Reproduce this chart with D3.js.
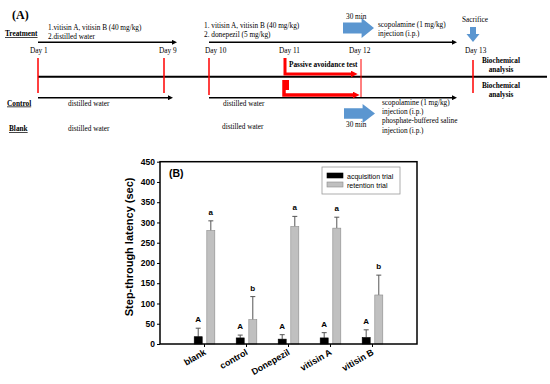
<!DOCTYPE html>
<html>
<head>
<meta charset="utf-8">
<script src="https://cdn.jsdelivr.net/npm/d3@7"></script>
<style>
  body { margin: 0; background: #fff; }
  svg { display: block; }
</style>
</head>
<body>
<div id="chart"></div>
<script>
// ---- panel B data ----
const groups = ["blank", "control", "Donepezil", "vitisin A", "vitisin B"];
const acquisition = [18, 15, 12, 15, 16];
const acquisitionErr = [21, 7, 11, 13, 19];
const retention = [280, 60, 290, 286, 121];
const retentionErr = [24, 57, 25, 27, 49];
const acqLetters = ["A", "A", "A", "A", "A"];
const retLetters = ["a", "b", "a", "a", "b"];
const seriesNames = ["acquisition trial", "retention trial"];
const yTicks = [0, 50, 100, 150, 200, 250, 300, 350, 400, 450];

// ---- panel A labels ----
const days = ["Day 1", "Day 9", "Day 10", "Day 11", "Day 12", "Day 13"];

const width = 550, height = 384;
const svg = d3.select("#chart").append("svg")
    .attr("width", width)
    .attr("height", height);

svg.append("rect").attr("width", width).attr("height", height).attr("fill", "#fff");

const serif = "'Liberation Serif', 'Times New Roman', serif";
const sans = "'Liberation Sans', Arial, sans-serif";
const blue = "#5b96d0";
const red = "#ff0000";

const defs = svg.append("defs");
function marker(id, color, w, h) {
    defs.append("marker")
        .attr("id", id)
        .attr("viewBox", "0 0 10 10")
        .attr("refX", 2).attr("refY", 5)
        .attr("markerUnits", "userSpaceOnUse")
        .attr("markerWidth", w).attr("markerHeight", h)
        .attr("orient", "auto")
        .append("path").attr("d", "M0,0 L10,5 L0,10 Z").attr("fill", color);
}
marker("blackHead", "#000", 6, 5);
marker("redHead", red, 7, 7);

// ================= panel A: timeline =================
const A = svg.append("g");
// day positions on the schematic
const dayX = d3.scaleOrdinal().domain(days).range([38, 164, 209, 284, 361, 473]);

function txt(g, x, y, s, opts = {}) {
    return g.append("text")
        .attr("x", x).attr("y", y)
        .attr("font-family", serif)
        .attr("font-size", opts.size || 7.3)
        .attr("font-weight", opts.bold ? "bold" : "normal")
        .attr("text-decoration", opts.underline ? "underline" : null)
        .attr("text-anchor", opts.anchor || "start")
        .attr("fill", "#000")
        .text(s);
}

txt(A, 12, 19, "(A)", {size: 12, bold: true});

// row labels
txt(A, 5, 36, "Treatment", {bold: true, underline: true});
txt(A, 7, 105.5, "Control", {bold: true, underline: true});
txt(A, 9, 131, "Blank", {bold: true, underline: true});

// treatment text
txt(A, 48, 29.5, "1.vitisin A, vitisin B (40 mg/kg)");
txt(A, 48, 38.5, "2.distilled water");
txt(A, 204, 27.5, "1. vitisin A, vitisin B (40 mg/kg)");
txt(A, 204, 36.5, "2. donepezil  (5 mg/kg)");

// black arrows
function arrow(x1, x2, y, head = true) {
    A.append("line")
        .attr("x1", x1).attr("x2", head ? x2 - 5 : x2)
        .attr("y1", y).attr("y2", y)
        .attr("stroke", "#000").attr("stroke-width", 1.5)
        .attr("marker-end", head ? "url(#blackHead)" : null);
}
arrow(dayX("Day 1"), 178, 42.3);
arrow(dayX("Day 10"), 458, 42.3);
arrow(dayX("Day 1"), 174, 97.7);
arrow(dayX("Day 10"), 458, 97.7);

// day labels
[["Day 1", 30], ["Day 9", 159], ["Day 10", 205], ["Day 11", 279], ["Day 12", 349], ["Day 13", 465]]
    .forEach(([d, x]) => txt(A, x, 53, d));

// middle line
A.append("line").attr("x1", dayX("Day 1")).attr("x2", 547)
    .attr("y1", 76.7).attr("y2", 76.7)
    .attr("stroke", "#000").attr("stroke-width", 2);

// red day marks
[["Day 1", 58, 93], ["Day 9", 58, 93], ["Day 10", 58, 95], ["Day 12", 59, 97], ["Day 13", 60, 93]]
    .forEach(([d, y1, y2]) => {
        A.append("line")
            .attr("x1", dayX(d)).attr("x2", dayX(d))
            .attr("y1", y1).attr("y2", y2)
            .attr("stroke", red).attr("stroke-width", d === "Day 12" ? 1 : 1.5);
    });

// passive avoidance red L arrows
A.append("path")
    .attr("d", `M${dayX("Day 11") + 1},58 V74 H352`)
    .attr("fill", "none").attr("stroke", red).attr("stroke-width", 3)
    .attr("marker-end", "url(#redHead)");
A.append("rect").attr("x", dayX("Day 11") - 1).attr("y", 80)
    .attr("width", 6).attr("height", 10).attr("fill", red);
A.append("path")
    .attr("d", `M${dayX("Day 11")},80 V95 H354`)
    .attr("fill", "none").attr("stroke", red).attr("stroke-width", 3.5)
    .attr("marker-end", "url(#redHead)");
txt(A, 289, 67, "Passive avoidance test", {bold: true});

// biochemical analysis
txt(A, 501, 63, "Biochemical", {bold: true, anchor: "middle"});
txt(A, 501, 72, "analysis", {bold: true, anchor: "middle"});
txt(A, 501, 88, "Biochemical", {bold: true, anchor: "middle"});
txt(A, 501, 97, "analysis", {bold: true, anchor: "middle"});

// blue block arrows
function blockArrow(x, y, w, h) {
    const body = h * 0.28, hx = x + w * 0.6;
    const cy = y + h / 2;
    A.append("path")
        .attr("d", `M${x},${cy - body} H${hx} V${y} L${x + w},${cy} L${hx},${y + h} V${cy + body} H${x} Z`)
        .attr("fill", blue);
}
blockArrow(343, 18, 31, 20);
txt(A, 346, 18.5, "30 min");
txt(A, 378, 27, "scopolamine (1 mg/kg)");
txt(A, 378, 35.5, "injection (i.p.)");

blockArrow(344, 104, 31, 19);
txt(A, 346, 127, "30 min");
txt(A, 382, 104.5, "scopolamine (1 mg/kg)");
txt(A, 382, 113.5, "injection (i.p.)");
txt(A, 382, 123, "phosphate-buffered saline");
txt(A, 382, 132.5, "injection (i.p.)");

// sacrifice
txt(A, 462, 22, "Sacrifice");
A.append("path")
    .attr("d", "M470,27 H476 V34 H479.5 L473,42 L466.5,34 H470 Z")
    .attr("fill", blue);

// control / blank text
txt(A, 68, 105.5, "distilled water");
txt(A, 223, 105.5, "distilled water");
txt(A, 68, 131, "distilled water");
txt(A, 222, 129, "distilled water");

// ================= panel B: bar chart =================
const plot = {left: 160, right: 417, top: 161.7, bottom: 344};

const x = d3.scaleBand()
    .domain(groups)
    .range([plot.left, plot.right])
    .paddingInner(0)
    .paddingOuter(0.56);

const y = d3.scaleLinear()
    .domain([0, 450])
    .range([plot.bottom, plot.top]);

const B = svg.append("g");
const barW = 8, off = 6.3;

const rows = groups.map((g, i) => ({
    g,
    acq: acquisition[i], acqE: acquisitionErr[i], acqL: acqLetters[i],
    ret: retention[i], retE: retentionErr[i], retL: retLetters[i]
}));

function drawSeries(key, errKey, letterKey, dx, fill, stroke) {
    const cx = d => x(d.g) + x.bandwidth() / 2 + dx;
    B.selectAll(null).data(rows).enter().append("line")
        .attr("x1", cx).attr("x2", cx)
        .attr("y1", d => y(d[key])).attr("y2", d => y(d[key] + d[errKey]))
        .attr("stroke", "#555").attr("stroke-width", 1);
    B.selectAll(null).data(rows).enter().append("line")
        .attr("x1", d => cx(d) - 2.5).attr("x2", d => cx(d) + 2.5)
        .attr("y1", d => y(d[key] + d[errKey])).attr("y2", d => y(d[key] + d[errKey]))
        .attr("stroke", "#555").attr("stroke-width", 1);
    B.selectAll(null).data(rows).enter().append("rect")
        .attr("x", d => cx(d) - barW / 2)
        .attr("y", d => y(d[key]))
        .attr("width", barW)
        .attr("height", d => y(0) - y(d[key]))
        .attr("fill", fill)
        .attr("stroke", stroke).attr("stroke-width", 0.6);
    B.selectAll(null).data(rows).enter().append("text")
        .attr("x", cx)
        .attr("y", d => y(d[key] + d[errKey]) - 6)
        .attr("text-anchor", "middle")
        .attr("font-family", sans).attr("font-size", 8).attr("font-weight", "bold")
        .text(d => d[letterKey]);
}
drawSeries("acq", "acqE", "acqL", -off, "#000", "#000");
drawSeries("ret", "retE", "retL", off, "#c0c0c0", "#8a8a8a");

// y axis
const yAxis = d3.axisLeft(y).tickValues(yTicks).tickSize(3).tickSizeOuter(0);
const ya = B.append("g").attr("transform", `translate(${plot.left},0)`).call(yAxis);
ya.select(".domain").remove();
ya.selectAll("text")
    .attr("font-family", sans).attr("font-size", 8.5).attr("font-weight", "bold")
    .attr("x", -5).attr("fill", "#000");

// x axis
const xAxis = d3.axisBottom(x).tickSize(3).tickSizeOuter(0);
const xa = B.append("g").attr("transform", `translate(0,${plot.bottom})`).call(xAxis);
xa.select(".domain").remove();
xa.selectAll("text")
    .attr("font-family", sans).attr("font-size", 9).attr("font-weight", "bold")
    .attr("fill", "#000")
    .attr("text-anchor", "end")
    .attr("dy", null)
    .attr("y", 0)
    .attr("transform", "translate(2,10) rotate(-30)");

// frame
B.append("rect")
    .attr("x", plot.left).attr("y", plot.top)
    .attr("width", plot.right - plot.left).attr("height", plot.bottom - plot.top)
    .attr("fill", "none").attr("stroke", "#000").attr("stroke-width", 1.5);

B.append("text")
    .attr("x", 169).attr("y", 177)
    .attr("font-family", sans).attr("font-size", 10.5).attr("font-weight", "bold")
    .text("(B)");

// y title
B.append("text")
    .attr("transform", `translate(133,${(plot.top + plot.bottom) / 2 - 6}) rotate(-90)`)
    .attr("text-anchor", "middle")
    .attr("font-family", sans).attr("font-size", 11).attr("font-weight", "bold")
    .text("Step-through latency (sec)");

// legend
const leg = B.append("g").attr("transform", "translate(322,167)");
leg.append("rect").attr("width", 78).attr("height", 27)
    .attr("fill", "#fff").attr("stroke", "#999").attr("stroke-width", 0.8);
const legFill = ["#000", "#c0c0c0"], legStroke = ["#000", "#8a8a8a"];
seriesNames.forEach((s, i) => {
    leg.append("rect").attr("x", 5).attr("y", 6 + i * 9)
        .attr("width", 16).attr("height", 5)
        .attr("fill", legFill[i]).attr("stroke", legStroke[i]).attr("stroke-width", 0.6);
    leg.append("text").attr("x", 25).attr("y", 11.5 + i * 9)
        .attr("font-family", sans).attr("font-size", 7)
        .text(s);
});
</script>
</body>
</html>
